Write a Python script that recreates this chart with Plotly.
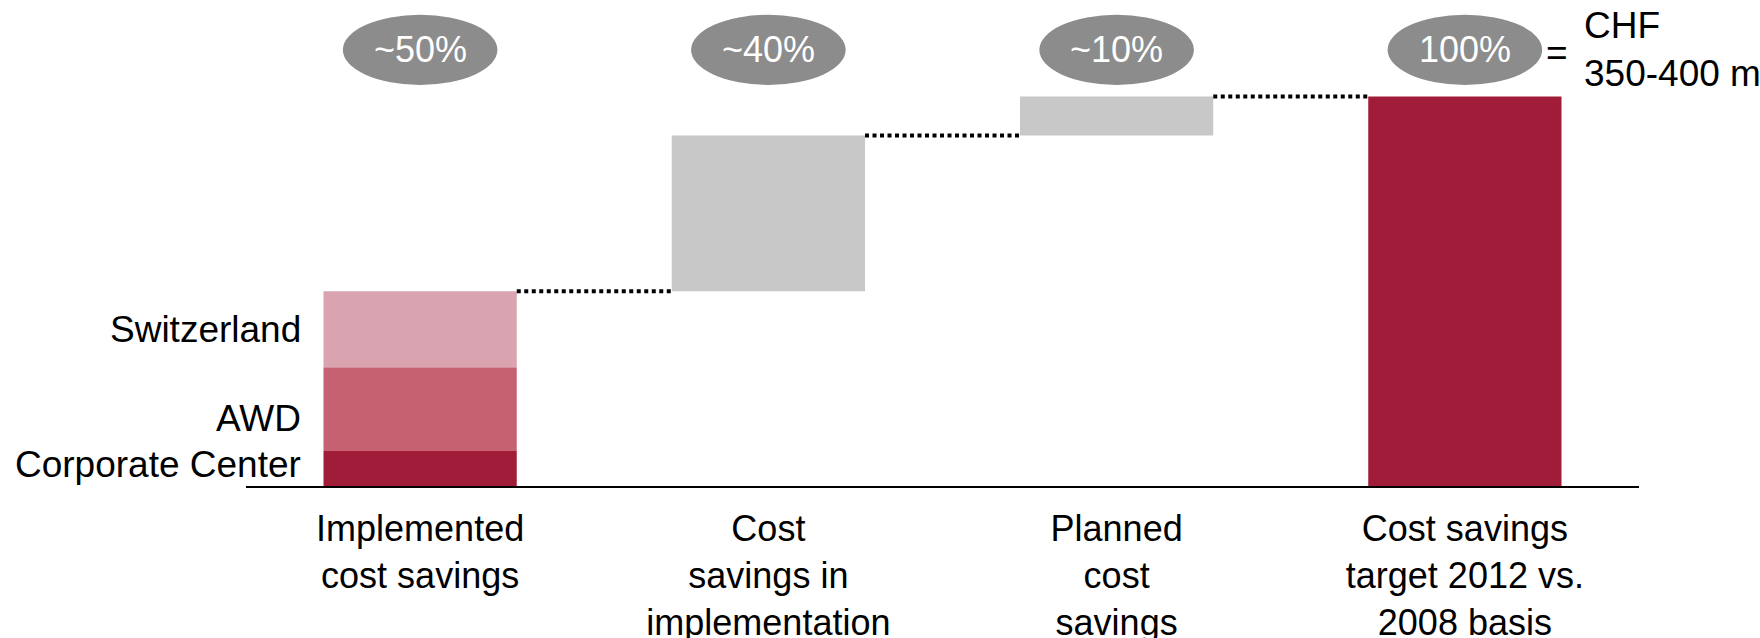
import plotly.graph_objects as go

# Categories along the x axis
categories = [
    "Implemented<br>cost savings",
    "Cost<br>savings in<br>implementation",
    "Planned<br>cost<br>savings",
    "Cost savings<br>target 2012 vs.<br>2008 basis",
]
# Share of the total savings target (%)
implemented_parts = ["Corporate Center", "AWD", "Switzerland"]
implemented_values = [9, 21.5, 19.5]
in_implementation = 40
planned = 10
target_total = 100
badge_labels = ["~50%", "~40%", "~10%", "100%"]

FONT = "Arial, Liberation Sans, sans-serif"
DARK_RED = "#A11C38"
MID_RED = "#C66172"
LIGHT_RED = "#D9A3AF"
GREY_BAR = "#C8C8C8"
GREY_BADGE = "#8C8C8C"
BAR_W = 0.555

fig = go.Figure()

# First column: stacked segments of implemented savings
seg_colors = [DARK_RED, MID_RED, LIGHT_RED]
base = 0
seg_mids = []
for name, val, col in zip(implemented_parts, implemented_values, seg_colors):
    fig.add_trace(go.Bar(x=[0], y=[val], base=[base], width=BAR_W,
                         marker=dict(color=col, line=dict(width=0)),
                         name=name, showlegend=False, hoverinfo="skip"))
    seg_mids.append(base + val / 2)
    base += val
implemented_total = base

# Floating bars for savings in implementation and planned savings
level2 = implemented_total + in_implementation
level3 = level2 + planned
fig.add_trace(go.Bar(x=[1, 2], y=[in_implementation, planned],
                     base=[implemented_total, level2], width=BAR_W,
                     marker=dict(color=GREY_BAR, line=dict(width=0)),
                     showlegend=False, hoverinfo="skip"))
# Total target bar
fig.add_trace(go.Bar(x=[3], y=[target_total], base=[0], width=BAR_W,
                     marker=dict(color=DARK_RED, line=dict(width=0)),
                     showlegend=False, hoverinfo="skip"))

# Dotted connectors between consecutive bars
for i, lvl in enumerate([implemented_total, level2, level3]):
    fig.add_shape(type="line", xref="x", yref="y",
                  x0=i + BAR_W / 2, x1=i + 1 - BAR_W / 2, y0=lvl, y1=lvl,
                  line=dict(color="black", width=4, dash="4px,3.5px"))

# Segment labels to the left of the first column
label_shift = [4, -9, 0]
for name, mid, dy in zip(implemented_parts, seg_mids, label_shift):
    fig.add_annotation(x=-BAR_W / 2, y=mid, xref="x", yref="y",
                       text=name, showarrow=False, xanchor="right",
                       yanchor="middle", xshift=-20, yshift=dy,
                       font=dict(family=FONT, size=37, color="black"))

# Percentage badges above the columns
BADGE_Y = 112
BADGE_H = 9
BADGE_HW = 0.222
for i, txt in enumerate(badge_labels):
    fig.add_shape(type="circle", xref="x", yref="y",
                  x0=i - BADGE_HW, x1=i + BADGE_HW,
                  y0=BADGE_Y - BADGE_H, y1=BADGE_Y + BADGE_H,
                  fillcolor=GREY_BADGE, line=dict(width=0))
    fig.add_annotation(x=i, y=BADGE_Y, xref="x", yref="y", text=txt,
                       showarrow=False, xanchor="center", yanchor="middle",
                       font=dict(family=FONT, size=36, color="white"))

# Absolute value of the target
fig.add_annotation(x=3.264, y=BADGE_Y, xref="x", yref="y", text="=",
                   showarrow=False, xanchor="center", yanchor="middle",
                   yshift=-3, font=dict(family=FONT, size=37, color="black"))
fig.add_annotation(x=3 + BAR_W / 2, y=BADGE_Y, xref="x", yref="y",
                   text="CHF<br>350-400 m", showarrow=False, align="left",
                   xanchor="left", yanchor="middle", xshift=20,
                   font=dict(family=FONT, size=37, color="black"))

fig.update_layout(
    width=1760, height=638,
    margin=dict(l=246, r=121, t=0, b=152, autoexpand=False),
    paper_bgcolor="white", plot_bgcolor="white",
    barmode="overlay",
    xaxis=dict(range=[-0.5, 3.5], tickmode="array",
               tickvals=list(range(len(categories))), ticktext=categories,
               showline=True, linecolor="black", linewidth=2,
               showgrid=False, zeroline=False, ticks="",
               automargin=False, ticklabelstandoff=10,
               tickfont=dict(family=FONT, size=36, color="black")),
    yaxis=dict(range=[0, 124.8], visible=False, showgrid=False,
               automargin=False),
)

fig.write_html("out.html")
